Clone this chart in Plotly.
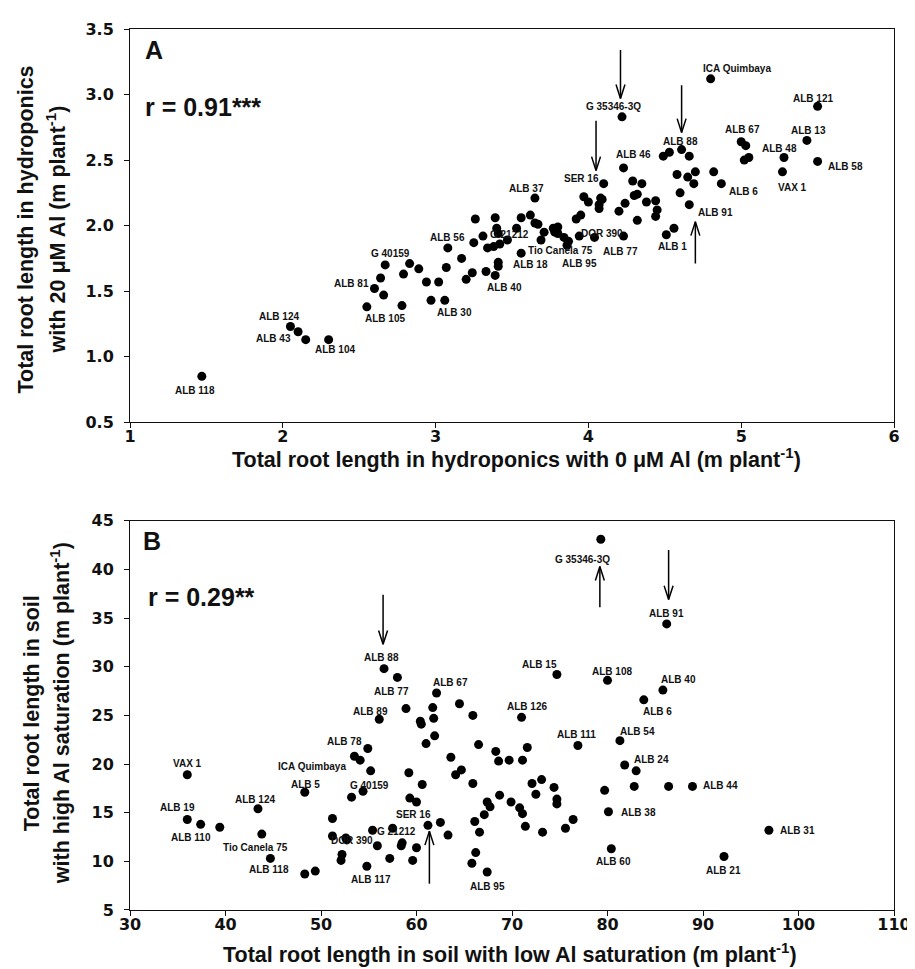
import plotly.graph_objects as go

# ---------------- DATA ----------------
# Panel A: total root length in hydroponics (m plant-1)
hydro_names = [
    "ALB 118", "ALB 124", "ALB 43", "", "ALB 104", "ALB 105", "", "ALB 81", "", "",
    "G 40159", "", "", "", "", "", "", "ALB 30", "", "ALB 56",
    "", "", "", "", "", "", "", "", "", "",
    "", "", "G 21212", "", "ALB 40", "", "", "", "", "ALB 18",
    "ALB 37", "", "", "", "", "Tio Canela 75", "", "", "", "",
    "", "", "ALB 95", "", "", "", "DOR 390", "", "", "",
    "", "", "", "", "", "", "", "", "", "",
    "", "", "ALB 77", "", "ALB 1", "ALB 91", "", "ICA Quimbaya", "ALB 121", "G 35346-3Q",
    "ALB 13", "ALB 48", "ALB 58", "VAX 1", "ALB 67", "", "", "", "", "ALB 88",
    "", "ALB 46", "", "", "", "SER 16", "", "", "", "",
    "", "ALB 6",
]
hydro_0uM = [
    1.47, 2.05, 2.10, 2.15, 2.30, 2.55, 2.78, 2.60, 2.64, 2.66,
    2.67, 2.79, 2.83, 2.89, 2.94, 3.02, 2.97, 3.06, 3.07, 3.08,
    3.17, 3.20, 3.24, 3.25, 3.26, 3.31, 3.33, 3.39, 3.40, 3.41,
    3.34, 3.38, 3.42, 3.47, 3.39, 3.41, 3.41, 3.53, 3.56, 3.56,
    3.65, 3.62, 3.65, 3.67, 3.71, 3.69, 3.77, 3.80, 3.78, 3.80,
    3.84, 3.87, 3.86, 3.92, 3.95, 3.94, 4.04, 3.97, 4.00, 4.08,
    4.09, 4.07, 4.07, 4.20, 4.24, 4.30, 4.32, 4.38, 4.44, 4.45,
    4.44, 4.32, 4.23, 4.51, 4.56, 4.66, 4.60, 4.80, 5.50, 4.22,
    5.43, 5.28, 5.50, 5.27, 5.00, 5.03, 5.02, 5.05, 4.53, 4.61,
    4.66, 4.49, 4.23, 4.29, 4.35, 4.10, 4.58, 4.65, 4.70, 4.69,
    4.82, 4.87,
]
hydro_20uM = [
    0.85, 1.23, 1.19, 1.13, 1.13, 1.38, 1.39, 1.52, 1.60, 1.47,
    1.70, 1.63, 1.71, 1.67, 1.57, 1.57, 1.43, 1.43, 1.68, 1.83,
    1.75, 1.59, 1.64, 1.87, 2.05, 1.92, 1.65, 2.06, 1.98, 1.94,
    1.83, 1.84, 1.86, 1.89, 1.62, 1.72, 1.69, 1.98, 2.06, 1.79,
    2.21, 2.08, 2.02, 2.01, 1.95, 1.89, 1.98, 1.99, 1.95, 1.94,
    1.91, 1.88, 1.85, 2.05, 2.08, 1.92, 1.91, 2.22, 2.18, 2.21,
    2.20, 2.16, 2.13, 2.11, 2.17, 2.23, 2.24, 2.18, 2.19, 2.12,
    2.07, 2.04, 1.92, 1.93, 1.98, 2.16, 2.25, 3.12, 2.91, 2.83,
    2.65, 2.52, 2.49, 2.41, 2.64, 2.61, 2.50, 2.52, 2.56, 2.58,
    2.53, 2.53, 2.44, 2.34, 2.32, 2.32, 2.39, 2.37, 2.41, 2.32,
    2.41, 2.32,
]

# Panel B: total root length in soil (m plant-1)
soil_names = [
    "VAX 1", "ALB 19", "ALB 110", "", "ALB 124", "Tio Canela 75", "", "ALB 118", "", "ALB 5",
    "ALB 78", "ICA Quimbaya", "", "", "G 40159", "", "", "", "DOR 390", "",
    "", "", "ALB 117", "G 21212", "", "", "", "", "", "",
    "", "SER 16", "", "", "", "", "", "", "", "",
    "", "", "", "", "", "", "", "", "", "",
    "", "", "", "", "", "", "", "", "", "",
    "", "ALB 95", "ALB 88", "ALB 77", "ALB 67", "", "ALB 89", "", "", "",
    "", "", "", "ALB 126", "G 35346-3Q", "ALB 91", "ALB 15", "ALB 108", "ALB 40", "ALB 6",
    "ALB 111", "ALB 54", "ALB 24", "", "", "", "", "", "", "",
    "", "", "", "", "", "", "", "ALB 44", "ALB 38", "ALB 31",
    "ALB 60", "ALB 21",
]
soil_low_al = [
    36.0, 36.0, 37.4, 39.4, 43.4, 43.8, 44.7, 48.3, 49.4, 48.3,
    54.9, 53.5, 54.1, 55.2, 54.4, 53.2, 51.2, 51.2, 52.6, 52.7,
    52.2, 52.1, 54.8, 55.4, 57.5, 55.9, 58.5, 58.4, 60.0, 57.2,
    59.6, 61.2, 62.5, 63.3, 59.2, 60.6, 59.3, 60.0, 61.0, 61.9,
    63.6, 64.1, 64.7, 65.9, 66.5, 68.3, 68.6, 69.7, 71.1, 68.7,
    67.4, 67.7, 69.9, 70.8, 71.1, 71.4, 67.1, 66.1, 66.6, 66.2,
    65.8, 67.4, 56.6, 58.0, 62.1, 58.9, 56.1, 61.7, 61.8, 60.4,
    60.5, 64.5, 65.9, 71.0, 79.3, 86.2, 74.7, 80.0, 85.8, 83.8,
    76.9, 81.3, 81.8, 83.0, 71.6, 72.1, 73.1, 74.4, 72.5, 74.7,
    74.7, 73.2, 75.6, 76.4, 79.7, 82.8, 86.4, 88.9, 80.1, 96.9,
    80.4, 92.2,
]
soil_high_al = [
    18.9, 14.3, 13.8, 13.5, 15.4, 12.8, 10.3, 8.7, 9.0, 17.1,
    21.6, 20.8, 20.4, 19.3, 17.2, 16.6, 14.4, 12.6, 12.4, 12.2,
    10.7, 10.1, 9.5, 13.2, 13.4, 11.6, 11.9, 11.6, 11.4, 10.3,
    10.1, 13.7, 14.0, 12.7, 19.1, 17.9, 16.5, 16.1, 22.1, 22.9,
    20.7, 18.9, 19.4, 18.0, 22.0, 21.3, 20.3, 20.4, 20.4, 16.8,
    16.1, 15.6, 16.1, 15.5, 14.9, 13.6, 14.8, 14.1, 13.0, 10.9,
    9.8, 8.9, 29.8, 28.9, 27.3, 25.7, 24.6, 25.8, 24.7, 24.4,
    24.1, 26.2, 25.0, 24.8, 43.1, 34.4, 29.2, 28.6, 27.6, 26.6,
    21.9, 22.4, 19.9, 19.3, 21.7, 18.0, 18.4, 17.6, 16.9, 16.4,
    15.9, 13.0, 13.4, 14.3, 17.3, 17.7, 17.7, 17.7, 15.1, 13.2,
    11.3, 10.5,
]

# highlighted genotypes (arrows): x position, tail value, head value
hydro_arrow_x = [4.21, 4.61, 4.05, 4.70]
hydro_arrow_tail = [3.34, 3.07, 2.80, 1.71]
hydro_arrow_head = [2.97, 2.71, 2.42, 2.03]

soil_arrow_x = [56.5, 86.4, 79.2, 61.35]
soil_arrow_tail = [37.4, 42.0, 36.1, 7.7]
soil_arrow_head = [32.3, 36.9, 40.3, 13.1]

hydro_x_ticks = [1, 2, 3, 4, 5, 6]
hydro_y_ticks = [0.5, 1.0, 1.5, 2.0, 2.5, 3.0, 3.5]
soil_x_ticks = [30, 40, 50, 60, 70, 80, 90, 100, 110]
soil_y_ticks = [5, 10, 15, 20, 25, 30, 35, 40, 45]

r_text_A = "r = 0.91***"
r_text_B = "r = 0.29**"

# ---------------- LABEL LAYOUT (pixel offsets, style only) ----------------
label_offsets_A = {
    "ALB 118": (-7, -14), "ALB 124": (-11, 10), "ALB 43": (-25, -7), "ALB 104": (6, -10),
    "ALB 105": (18, -12), "ALB 81": (-23, 5), "G 40159": (5, 11), "ALB 30": (10, -12),
    "ALB 56": (0, 10), "G 21212": (10, 9), "ALB 40": (9, -12), "ALB 18": (9, -11),
    "ALB 37": (-8, 10), "Tio Canela 75": (19, -10), "ALB 95": (12, -18), "DOR 390": (7, 4),
    "ALB 77": (-3, -15), "ALB 1": (-1, -18), "ALB 91": (26, -8), "SER 16": (-22, 5),
    "ALB 46": (-30, 2), "G 35346-3Q": (-9, 10), "ALB 88": (-1, 8), "ICA Quimbaya": (26, 10),
    "ALB 121": (-5, 8), "ALB 67": (1, 12), "ALB 13": (2, 10), "ALB 48": (-4, 9),
    "ALB 58": (28, -5), "VAX 1": (10, -16), "ALB 6": (22, -8),
}
label_offsets_B = {
    "VAX 1": (0, 11), "ALB 19": (-10, 12), "ALB 110": (-10, -13), "ALB 124": (-3, 9),
    "Tio Canela 75": (-6, -13), "ALB 118": (-36, 4), "ALB 5": (1, 8), "ALB 78": (-23, 7),
    "ICA Quimbaya": (-42, -10), "G 40159": (6, 6), "DOR 390": (6, -3), "G 21212": (24, -1),
    "SER 16": (-14, 11), "ALB 117": (4, -13), "ALB 95": (0, -14), "ALB 88": (-3, 11),
    "ALB 77": (-6, -14), "ALB 67": (14, 11), "ALB 89": (-9, 8), "ALB 126": (5, 11),
    "ALB 15": (-17, 10), "ALB 108": (4, 9), "ALB 40": (16, 11), "ALB 6": (14, -12),
    "ALB 111": (-1, 11), "ALB 54": (18, 9), "ALB 24": (27, 6), "ALB 44": (28, 1),
    "ALB 38": (30, -1), "ALB 31": (29, 0), "ALB 60": (2, -13), "ALB 21": (-1, -14),
    "G 35346-3Q": (-18, -20), "ALB 91": (0, 10),
}

# ---------------- FIGURE ----------------
W, H = 915, 969
ML, MR, MT, MB = 122, 26, 17, 67
PW, PH = W - ML - MR, H - MT - MB
A_top, A_bot = 17, 412
B_top, B_bot = 511, 902
domA = [(H - MB - A_bot) / PH, (H - MB - A_top) / PH]
domB = [(H - MB - B_bot) / PH, (H - MB - B_top) / PH]

LABEL_FONT = dict(family="Liberation Sans, Arial", size=10, color="#111111")
TICK_FONT = dict(family="DejaVu Sans", size=16, color="#111111", weight="bold")
TITLE_FONT = dict(family="Liberation Sans, Arial", size=21.5, color="#111111")

fig = go.Figure()

fig.add_trace(go.Scatter(x=hydro_0uM, y=hydro_20uM, mode="markers",
                         marker=dict(size=9, color="#000000"),
                         xaxis="x", yaxis="y", hoverinfo="skip", showlegend=False))
fig.add_trace(go.Scatter(x=soil_low_al, y=soil_high_al, mode="markers",
                         marker=dict(size=9, color="#000000"),
                         xaxis="x2", yaxis="y2", hoverinfo="skip", showlegend=False))


def arrow_paths(xs, tails, heads, xrange_, yrange_, height_px):
    xpx = PW / (xrange_[1] - xrange_[0])
    ypx = height_px / (yrange_[1] - yrange_[0])
    L, Wd = 14.0, 4.5
    px, py = [], []
    for x, t, h in zip(xs, tails, heads):
        s = 1 if h > t else -1
        px += [x, x, None, x - Wd / xpx, x, x + Wd / xpx, None]
        py += [t, h, None, h - s * L / ypx, h, h - s * L / ypx, None]
    return px, py


ax_, ay_ = arrow_paths(hydro_arrow_x, hydro_arrow_tail, hydro_arrow_head, [1, 6], [0.5, 3.5], A_bot - A_top)
fig.add_trace(go.Scatter(x=ax_, y=ay_, mode="lines", line=dict(color="#000000", width=1.5),
                         xaxis="x", yaxis="y", hoverinfo="skip", showlegend=False))
bx_, by_ = arrow_paths(soil_arrow_x, soil_arrow_tail, soil_arrow_head, [30, 110], [5, 45], B_bot - B_top)
fig.add_trace(go.Scatter(x=bx_, y=by_, mode="lines", line=dict(color="#000000", width=1.5),
                         xaxis="x2", yaxis="y2", hoverinfo="skip", showlegend=False))

annotations = []
for n, x, y in zip(hydro_names, hydro_0uM, hydro_20uM):
    if n:
        dx, dy = label_offsets_A.get(n, (0, 10))
        annotations.append(dict(x=x, y=y, xref="x", yref="y", text="<b>%s</b>" % n,
                                showarrow=False, xshift=dx, yshift=dy, font=LABEL_FONT))
for n, x, y in zip(soil_names, soil_low_al, soil_high_al):
    if n:
        dx, dy = label_offsets_B.get(n, (0, 10))
        annotations.append(dict(x=x, y=y, xref="x2", yref="y2", text="<b>%s</b>" % n,
                                showarrow=False, xshift=dx, yshift=dy, font=LABEL_FONT))

big = dict(family="Liberation Sans, Arial", size=25, color="#111111")
annotations += [
    dict(x=0.017, y=0.947, xref="x domain", yref="y domain", text="<b>A</b>",
         showarrow=False, xanchor="left", yanchor="middle", font=big),
    dict(x=0.017, y=0.8025, xref="x domain", yref="y domain", text="<b>%s</b>" % r_text_A,
         showarrow=False, xanchor="left", yanchor="middle", font=big),
    dict(x=0.014, y=0.949, xref="x2 domain", yref="y2 domain", text="<b>B</b>",
         showarrow=False, xanchor="left", yanchor="middle", font=big),
    dict(x=0.021, y=0.803, xref="x2 domain", yref="y2 domain", text="<b>%s</b>" % r_text_B,
         showarrow=False, xanchor="left", yanchor="middle", font=big),
]


def px_to_paper_x(px):
    return (px - ML) / PW


def px_to_paper_y(py):
    return (H - MB - py) / PH


title_specs = [
    (510, 448, 0, "Total root length in hydroponics with 0 μM Al (m plant<sup>-1</sup>)"),
    (503, 945, 0, "Total root length in soil with low Al saturation (m plant<sup>-1</sup>)"),
    (18, 218, -90, "Total root length in hydroponics"),
    (48, 218, -90, "with 20 μM Al (m plant<sup>-1</sup>)"),
    (24, 704, -90, "Total root length in soil"),
    (52, 704, -90, "with high Al saturation (m plant<sup>-1</sup>)"),
]
for px, py, ang, txt in title_specs:
    annotations.append(dict(x=px_to_paper_x(px), y=px_to_paper_y(py), xref="paper", yref="paper",
                            text="<b>%s</b>" % txt, showarrow=False, textangle=ang,
                            xanchor="center", yanchor="middle", font=TITLE_FONT))

axis_common = dict(showline=True, linecolor="#111111", linewidth=1, mirror=True,
                   ticks="outside", ticklen=5, tickwidth=1, tickcolor="#111111",
                   showgrid=False, zeroline=False, tickfont=TICK_FONT)

fig.update_layout(
    width=W, height=H,
    margin=dict(l=ML, r=MR, t=MT, b=MB),
    paper_bgcolor="white", plot_bgcolor="white",
    xaxis=dict(domain=[0, 1], range=[1, 6], tickvals=hydro_x_ticks, anchor="y",
               ticklabelstandoff=-5, **axis_common),
    yaxis=dict(domain=domA, range=[0.5, 3.5], tickvals=hydro_y_ticks, tickformat=".1f",
               anchor="x", ticklabelstandoff=7, **axis_common),
    xaxis2=dict(domain=[0, 1], range=[30, 110], tickvals=soil_x_ticks, anchor="y2",
                ticklabelstandoff=-5, **axis_common),
    yaxis2=dict(domain=domB, range=[5, 45], tickvals=soil_y_ticks, anchor="x2",
                ticklabelstandoff=7, **axis_common),
    annotations=annotations,
    showlegend=False,
)

fig.write_html("out.html")
